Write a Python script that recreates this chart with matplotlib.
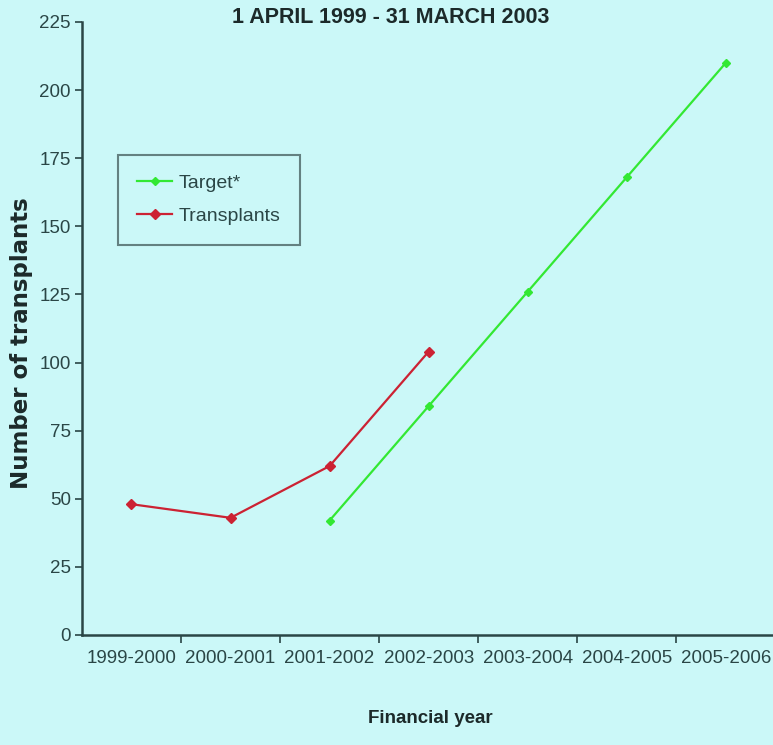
import numpy as np
import matplotlib.pyplot as plt

# data
years = ['1999-2000', '2000-2001', '2001-2002', '2002-2003',
         '2003-2004', '2004-2005', '2005-2006']
transplants = [48, 43, 62, 104]          # 1999-2000 .. 2002-2003
target = [42, 84, 126, 168, 210]         # 2001-2002 .. 2005-2006

bg = '#cbf8f8'
axcol = '#2a4646'
plt.rcParams['font.family'] = ['Liberation Sans Narrow', 'Liberation Sans', 'DejaVu Sans']

fig = plt.figure(figsize=(7.73, 7.45), dpi=100, facecolor=bg)
ax = fig.add_axes([0.106, 0.1477, 0.897, 0.8228], facecolor=bg)

x = np.arange(len(years))
ax.plot(x[:len(transplants)], transplants, color='#cc2233', lw=1.6,
        marker='D', ms=5, label='Transplants')
ax.plot(x[2:2 + len(target)], target, color='#33e833', lw=1.6,
        marker='D', ms=4, label='Target*')

ax.set_xlim(-0.5, len(years) - 0.5)
ax.set_ylim(0, 225)
ax.set_yticks(np.arange(0, 226, 25))
ax.set_xticks(x)
ax.set_xticklabels(years)
ax.set_xticks(np.arange(0.5, len(years) - 0.5, 1), minor=True)
ax.tick_params(axis='x', which='major', length=0, pad=11, labelsize=13.5, colors=axcol)
ax.tick_params(axis='x', which='minor', length=6, width=1.2, color=axcol)
ax.tick_params(axis='y', length=5, width=1.2, color=axcol, labelsize=13.5,
               labelcolor=axcol, pad=3)

for s in ['top', 'right']:
    ax.spines[s].set_visible(False)
for s in ['left', 'bottom']:
    ax.spines[s].set_color(axcol)
    ax.spines[s].set_linewidth(1.8)

handles, labels = ax.get_legend_handles_labels()
leg = ax.legend(handles[::-1], labels[::-1], loc='upper left',
                bbox_to_anchor=(0.052, 0.783), fontsize=14, frameon=True,
                fancybox=False, handlelength=1.8, borderpad=1.0,
                labelspacing=0.8, handletextpad=0.3, borderaxespad=0)
leg.get_frame().set_facecolor(bg)
leg.get_frame().set_edgecolor('#4a6464')
leg.get_frame().set_linewidth(1.5)
for t in leg.get_texts():
    t.set_color(axcol)

fig.text(0.505, 0.976, '1 APRIL 1999 - 31 MARCH 2003', ha='center', va='center',
         fontsize=15.5, fontweight='bold', color='#1c2a2a',
         family=['Liberation Sans', 'DejaVu Sans'])
fig.text(0.557, 0.036, 'Financial year', ha='center', va='center',
         fontsize=13.5, fontweight='bold', color='#1c2a2a')
fig.text(0.028, 0.54, 'Number of transplants', ha='center', va='center',
         rotation=90, fontsize=16.5, fontweight='bold', color='#1c2a2a',
         family=['DejaVu Sans'])

fig.savefig('out.png', dpi=100, facecolor=bg)
